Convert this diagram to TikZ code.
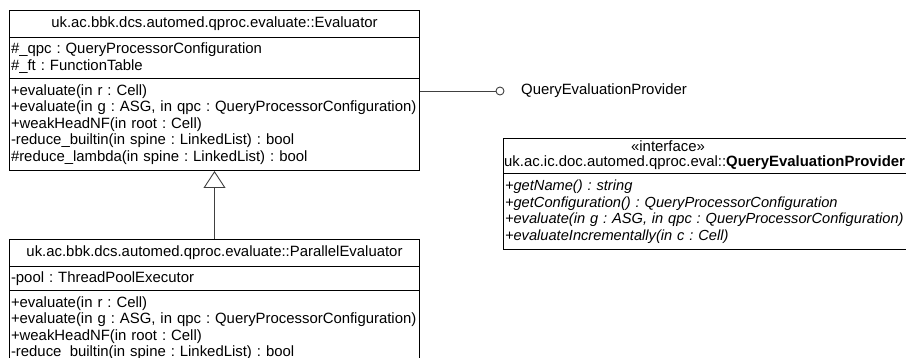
\documentclass[tikz,border=0pt]{standalone}
\usepackage{fontspec}
\setmainfont{Liberation Sans}
\usetikzlibrary{arrows.meta}
\newcommand\umlfont{\fontsize{14.9}{16.5}\selectfont\frenchspacing}
\newcommand\ifacefont{\fontsize{14.65}{16.5}\selectfont\frenchspacing\itshape}
\begin{document}
\frenchspacing
\begin{tikzpicture}[x=1pt,y=-1pt,
  comp/.style={draw=black, line width=1pt, anchor=north west, inner xsep=1.5pt, inner ysep=0pt,
    align=left, font=\umlfont, minimum width=410pt, text width=407pt},
  icomp/.style={comp, minimum width=430pt, text width=427pt},
  conn/.style={draw=black!75, line width=0.9pt},
  lbl/.style={font=\umlfont, inner sep=0pt}]
\useasboundingbox (0,0) rectangle (906,358);
\clip (0,0) rectangle (906,358);

% Evaluator
\node[comp, align=center, minimum height=27pt] (evH) at (9,10) {uk.ac.bbk.dcs.automed.qproc.evaluate::Evaluator};
\node[comp, minimum height=41pt] (evA) at (9,37) {\#\_qpc : QueryProcessorConfiguration\\\#\_ft : FunctionTable};
\node[comp, minimum height=92pt] (evM) at (9,78) {+evaluate(in r : Cell)\\
+evaluate(in g : ASG, in qpc : QueryProcessorConfiguration)\\
+weakHeadNF(in root : Cell)\\
-reduce\_builtin(in spine : LinkedList) : bool\\
\#reduce\_lambda(in spine : LinkedList) : bool};

% ParallelEvaluator
\node[comp, align=center, minimum height=27pt] (pH) at (9,239) {uk.ac.bbk.dcs.automed.qproc.evaluate::ParallelEvaluator};
\node[comp, minimum height=24pt] (pA) at (9,266) {-pool : ThreadPoolExecutor};
\node[comp, minimum height=75.5pt] (pM) at (9,290) {+evaluate(in r : Cell)\\
+evaluate(in g : ASG, in qpc : QueryProcessorConfiguration)\\
+weakHeadNF(in root : Cell)\\
-reduce\_builtin(in spine : LinkedList) : bool};

% Interface
\node[icomp, minimum height=35pt] (iH) at (503,138) {};
\node[lbl] (iS) at (668,146.5) {«interface»};
\node[lbl, anchor=west] (iN) at (504,163) {uk.ac.ic.doc.automed.qproc.eval::\textbf{QueryEvaluationProvider}};
\node[icomp, minimum height=76pt, font=\ifacefont] (iM) at (503,173) {+getName() : string\\
+getConfiguration() : QueryProcessorConfiguration\\
+evaluate(in g : ASG, in qpc : QueryProcessorConfiguration)\\
+evaluateIncrementally(in c : Cell)};

% lollipop
\node[circle, draw=black!75, line width=0.9pt, minimum size=8pt, inner sep=0pt] (lol) at (500,91) {};
\draw[conn] (lol.west) -- (lol.west -| evM.east);
\node[lbl, anchor=west] (lolL) at (521,91) {QueryEvaluationProvider};

% generalization
\draw[conn, -{Triangle[open, length=17pt, width=22pt]}] (pH.north) -- (evM.south);
\end{tikzpicture}
\end{document}
